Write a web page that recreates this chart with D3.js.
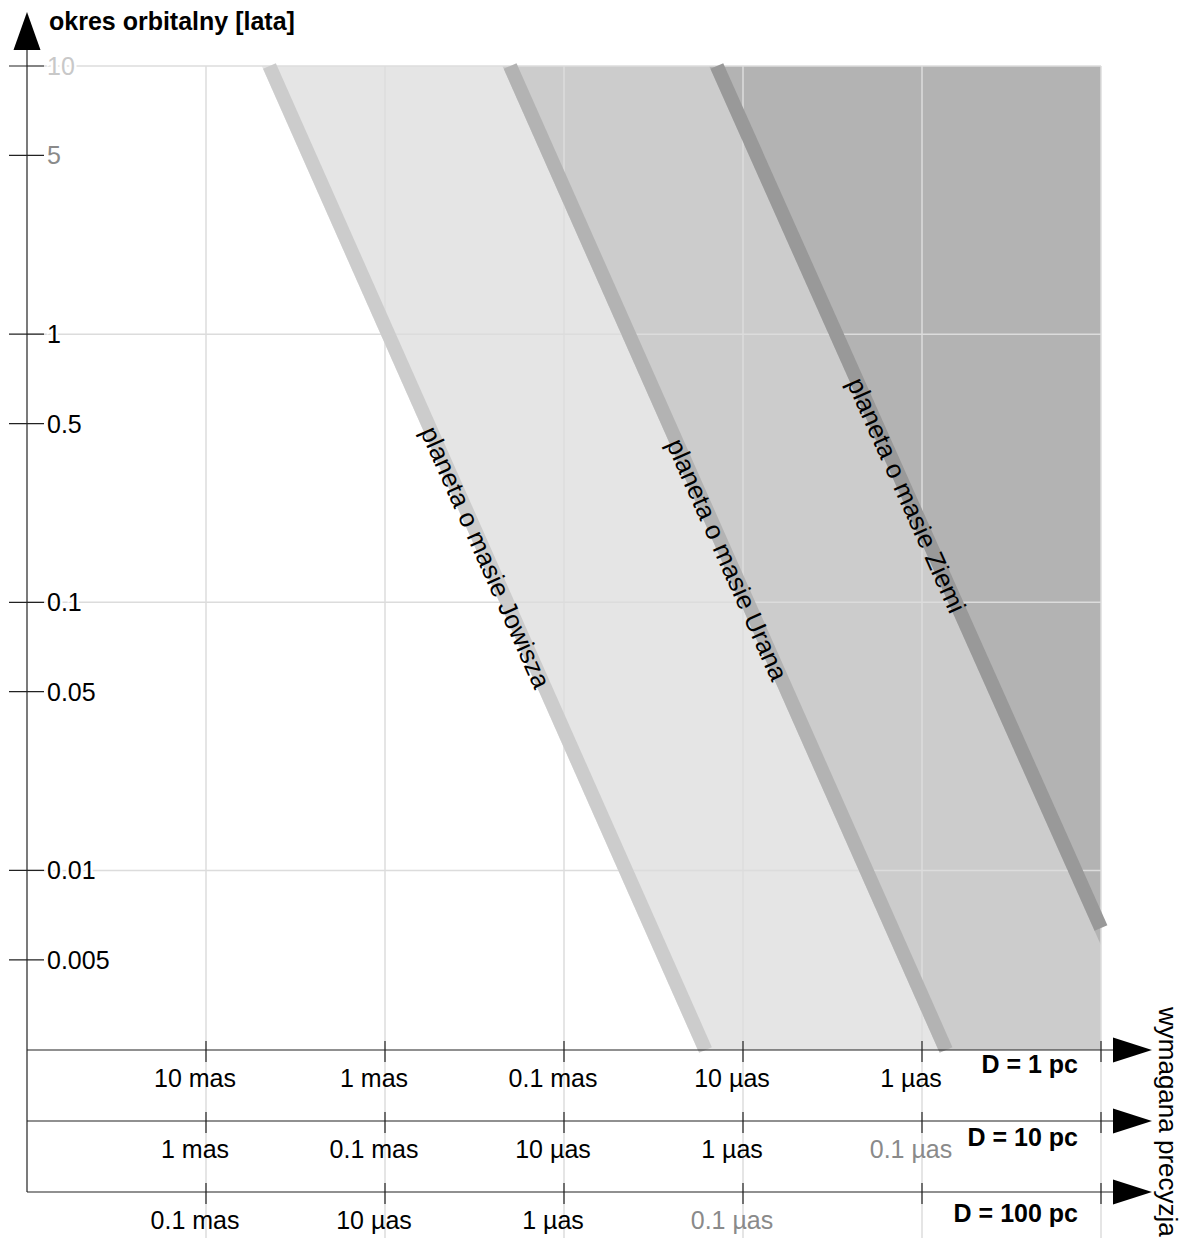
<!DOCTYPE html>
<html>
<head>
<meta charset="utf-8">
<script src="https://cdn.jsdelivr.net/npm/d3@7"></script>
<style>
  body { margin: 0; background: #fff; }
  text { font-family: "Liberation Sans", Arial, sans-serif; }
</style>
</head>
<body>
<div id="chart"></div>
<script>
// ---- data ----
// orbital period axis (years); the "5" ticks sit a third of a decade below each power of ten
const periodTicks = [10, 4.64, 1, 0.464, 0.1, 0.0464, 0.01, 0.00464];
const periodTickLabels = ['10', '5', '1', '0.5', '0.1', '0.05', '0.01', '0.005'];
const periodGrid = [10, 1, 0.1, 0.01];
const periodRange = [10, 0.00214];

// required precision, in mas for D = 1 pc
const precisionRange = [100, 0.0001];
const precisionTicks = [10, 1, 0.1, 0.01, 0.001, 0.0001];
const distanceLabels = ['D = 1 pc', 'D = 10 pc', 'D = 100 pc'];
const rowLabels1pc = ['10 mas', '1 mas', '0.1 mas', '10 µas', '1 µas', ''];
const rowLabels10pc = ['1 mas', '0.1 mas', '10 µas', '1 µas', '0.1 µas', ''];
const rowLabels100pc = ['0.1 mas', '10 µas', '1 µas', '0.1 µas', '', ''];

// planet lines: [period at start, period at end], [signal at start, signal at end] (mas @ 1 pc)
const planetNames = ['planeta o masie Jowisza', 'planeta o masie Urana', 'planeta o masie Ziemi'];
const planetPeriods = [[10, 0.00214], [10, 0.00214], [10, 0.0061]];
const planetSignals = [[4.42, 0.0162], [0.200, 0.000734], [0.0140, 0.0001]];
const planetLabelPeriod = [0.148, 0.145, 0.252];

// ---- layout ----
const W = 1190, H = 1238;
const plotLeft = 27, plotRight = 1101, plotTop = 66, plotBottom = 1050;
const rowY = [1050, 1121, 1192];

const svg = d3.select('#chart').append('svg')
  .attr('width', W).attr('height', H);

const y = d3.scaleLog().domain(periodRange).range([plotTop, plotBottom]);
const x = d3.scaleLog().domain(precisionRange).range([plotLeft, plotRight]);

const fills = ['#e5e5e5', '#cccccc', '#b3b3b3'];
const strokes = ['#cccccc', '#b3b3b3', '#999999'];
const lineW = 14;

svg.append('defs').append('clipPath').attr('id', 'plot')
  .append('rect')
  .attr('x', plotLeft).attr('y', plotTop)
  .attr('width', plotRight - plotLeft).attr('height', plotBottom - plotTop);

// pixel geometry of each planet line
const planets = planetNames.map((name, i) => {
  const a = [x(planetSignals[i][0]), y(planetPeriods[i][0])];
  const b = [x(planetSignals[i][1]), y(planetPeriods[i][1])];
  const len = Math.hypot(b[0] - a[0], b[1] - a[1]);
  const d = [(b[0] - a[0]) / len, (b[1] - a[1]) / len];
  const n = [-d[1] * lineW / 2, d[0] * lineW / 2];
  return { name, a, b, d, n, i };
});

// ---- shaded regions ----
const gFill = svg.append('g').attr('clip-path', 'url(#plot)');
planets.forEach(p => {
  const A = [p.a[0] - p.d[0] * 300 + p.n[0], p.a[1] - p.d[1] * 300 + p.n[1]];
  const B = [p.b[0] + p.d[0] * 300 + p.n[0], p.b[1] + p.d[1] * 300 + p.n[1]];
  gFill.append('path')
    .attr('d', d3.line()([A, B, [1600, B[1]], [1600, A[1]]]) + 'Z')
    .attr('fill', fills[p.i]);
});

// ---- grid ----
svg.append('g').selectAll('line.h')
  .data(periodGrid).enter().append('line')
  .attr('x1', plotLeft).attr('x2', plotRight)
  .attr('y1', d => y(d)).attr('y2', d => y(d))
  .attr('stroke', '#dcdcdc').attr('stroke-width', 1.5);

svg.append('g').selectAll('line.v')
  .data(precisionTicks).enter().append('line')
  .attr('x1', d => x(d)).attr('x2', d => x(d))
  .attr('y1', plotTop).attr('y2', H)
  .attr('stroke', '#dcdcdc').attr('stroke-width', 1.5);

// ---- planet lines ----
svg.append('g').selectAll('line.p')
  .data(planets).enter().append('line')
  .attr('x1', d => d.a[0]).attr('y1', d => d.a[1])
  .attr('x2', d => d.b[0]).attr('y2', d => d.b[1])
  .attr('stroke', d => strokes[d.i])
  .attr('stroke-width', lineW)
  .attr('stroke-linecap', 'butt');

// labels along the lines
svg.append('g').selectAll('text.p')
  .data(planets).enter().append('text')
  .attr('transform', d => {
    const pp = planetLabelPeriod[d.i];
    const t = (Math.log(pp) - Math.log(planetPeriods[d.i][0])) /
      (Math.log(planetPeriods[d.i][1]) - Math.log(planetPeriods[d.i][0]));
    const s = Math.exp(Math.log(planetSignals[d.i][0]) +
      t * (Math.log(planetSignals[d.i][1]) - Math.log(planetSignals[d.i][0])));
    const ang = Math.atan2(d.d[1], d.d[0]) * 180 / Math.PI;
    return 'translate(' + x(s) + ',' + y(pp) + ') rotate(' + ang + ')';
  })
  .attr('text-anchor', 'middle')
  .attr('dy', '0.4em')
  .attr('font-size', '26px')
  .attr('fill', '#000')
  .text(d => d.name);

// ---- y axis ----
const gy = svg.append('g');
gy.append('line')
  .attr('x1', plotLeft).attr('x2', plotLeft)
  .attr('y1', 48).attr('y2', rowY[2])
  .attr('stroke', '#222').attr('stroke-width', 1.2);
gy.append('path')
  .attr('d', 'M' + plotLeft + ',12L' + (plotLeft + 13.5) + ',50L' + (plotLeft - 13.5) + ',50Z')
  .attr('fill', '#000');
gy.selectAll('line.t')
  .data(periodTicks).enter().append('line')
  .attr('x1', 9).attr('x2', 44)
  .attr('y1', d => y(d)).attr('y2', d => y(d))
  .attr('stroke', '#222').attr('stroke-width', 1.2);

const tickColor = { '10': '#c8c8c8', '5': '#8a8a8a' };
gy.selectAll('text.t')
  .data(periodTicks).enter().append('text')
  .attr('x', 47).attr('y', d => y(d))
  .attr('dy', '0.36em')
  .attr('font-size', '25px')
  .attr('fill', (d, i) => tickColor[periodTickLabels[i]] || '#000')
  .attr('stroke', '#fff').attr('stroke-width', 5)
  .attr('paint-order', 'stroke')
  .text((d, i) => periodTickLabels[i]);

svg.append('text')
  .attr('x', 49).attr('y', 30)
  .attr('font-size', '25px').attr('font-weight', 'bold')
  .text('okres orbitalny [lata]');

// ---- x axes (one per distance) ----
const rowLabels = [rowLabels1pc, rowLabels10pc, rowLabels100pc];
const dOffsets = [23, 25, 30];
rowY.forEach((ry, r) => {
  const g = svg.append('g');
  g.append('line')
    .attr('x1', plotLeft).attr('x2', 1114)
    .attr('y1', ry).attr('y2', ry)
    .attr('stroke', '#222').attr('stroke-width', 1.2);
  g.append('path')
    .attr('d', 'M1152,' + ry + 'L1113,' + (ry - 12.5) + 'L1113,' + (ry + 12.5) + 'Z')
    .attr('fill', '#000');
  g.selectAll('line.t')
    .data(precisionTicks).enter().append('line')
    .attr('x1', d => x(d)).attr('x2', d => x(d))
    .attr('y1', ry - 9).attr('y2', ry + 12)
    .attr('stroke', '#222').attr('stroke-width', 1.2);
  g.selectAll('text.t')
    .data(precisionTicks).enter().append('text')
    .attr('x', d => x(d) - 11).attr('y', ry + 37)
    .attr('text-anchor', 'middle')
    .attr('font-size', '25px')
    .attr('fill', (d, i) => rowLabels[r][i] === '0.1 µas' ? '#8a8a8a' : '#000')
    .text((d, i) => rowLabels[r][i]);
  g.append('text')
    .attr('x', 1078).attr('y', ry + dOffsets[r])
    .attr('text-anchor', 'end')
    .attr('font-size', '25px').attr('font-weight', 'bold')
    .text(distanceLabels[r]);
});

svg.append('text')
  .attr('transform', 'translate(1159,1007) rotate(90)')
  .attr('font-size', '26px')
  .text('wymagana precyzja');
</script>
</body>
</html>
